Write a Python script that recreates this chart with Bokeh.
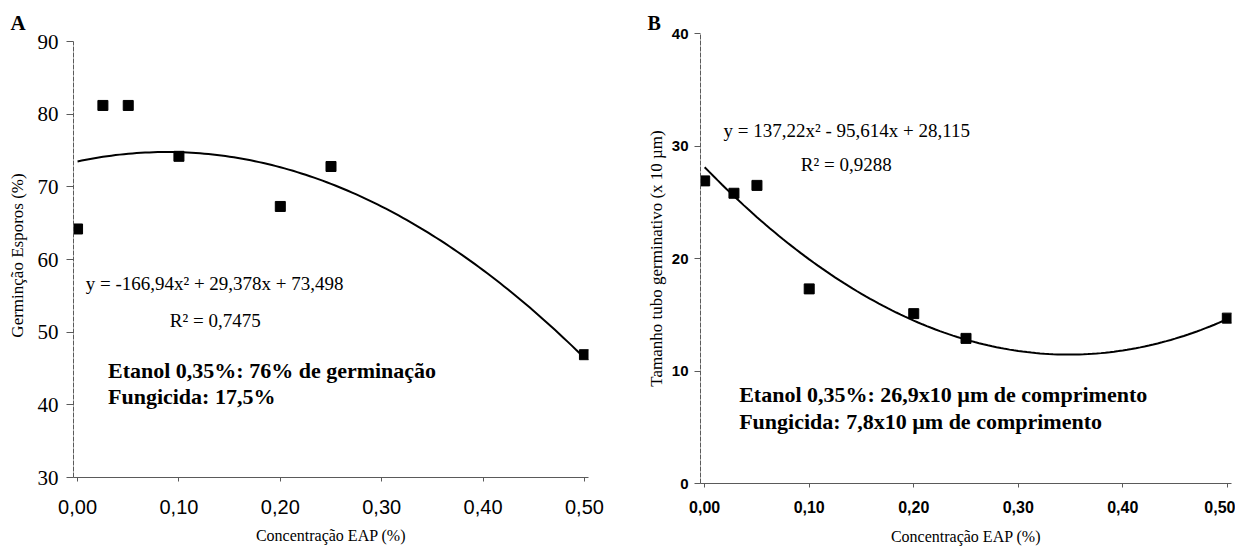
import numpy as np
from bokeh.plotting import figure
from bokeh.layouts import row
from bokeh.models import FixedTicker, Label, Range1d
from bokeh.embed import file_html
from bokeh.resources import INLINE

# ---- data ----
conc_a = [0.0, 0.025, 0.05, 0.10, 0.20, 0.25, 0.50]
germ_a = [64.2, 81.2, 81.2, 74.2, 67.3, 72.8, 46.9]
coef_a = [-166.94, 29.378, 73.498]          # trendline shown in panel A

conc_b = [0.0, 0.028, 0.05, 0.10, 0.20, 0.25, 0.50]
tubo_b = [26.9, 25.8, 26.5, 17.3, 15.1, 12.9, 14.7]
coef_b = [137.22, -95.614, 28.115]          # trendline shown in panel B

x_ticks = [0.0, 0.1, 0.2, 0.3, 0.4, 0.5]
x_tick_labels = ["0,00", "0,10", "0,20", "0,30", "0,40", "0,50"]
y_ticks_a = [30, 40, 50, 60, 70, 80, 90]
y_ticks_b = [0, 10, 20, 30, 40]

SERIF = "Liberation Serif"
SANS = "Liberation Sans"
AXC = "#5a5a5a"


def base_fig(fw, fh, y0, y1, yticks, ybounds, bl, br, bt, bb, letter, letter_size,
             letter_off, letter_standoff):
    p = figure(frame_width=fw, frame_height=fh, output_backend="svg", toolbar_location=None,
               x_range=Range1d(-0.004, 0.504), y_range=Range1d(y0, y1),
               min_border_left=bl, min_border_right=br, min_border_top=bt,
               min_border_bottom=bb, title=letter)
    p.title.text_font = SERIF
    p.title.text_font_size = f"{letter_size}px"
    p.title.text_font_style = "bold"
    p.title.text_color = "black"
    p.title.align = "left"
    p.title.offset = letter_off
    p.title.standoff = letter_standoff
    p.outline_line_color = None
    p.grid.visible = False
    p.background_fill_color = "white"
    p.border_fill_color = "white"
    p.xaxis.ticker = FixedTicker(ticks=x_ticks)
    p.xaxis.major_label_overrides = {t: l for t, l in zip(x_ticks, x_tick_labels)}
    p.yaxis.ticker = FixedTicker(ticks=yticks)
    p.yaxis.bounds = ybounds
    for ax in (p.xaxis[0], p.yaxis[0]):
        ax.axis_line_color = AXC
        ax.axis_line_width = 1
        ax.major_tick_line_color = AXC
        ax.minor_tick_line_color = None
        ax.major_tick_in = 0
        ax.major_label_text_color = "black"
        ax.axis_label_text_color = "black"
        ax.axis_label_text_font = SERIF
        ax.axis_label_text_font_style = "normal"
    p.yaxis.axis_line_dash = "5 1"
    return p


def curve(coef):
    xs = np.linspace(0, 0.5, 121)
    return xs, np.polyval(coef, xs)


def txt(p, x, y, s, size, bold=False):
    p.add_layout(Label(x=x, y=y, text=s, text_font=SERIF, text_font_size=f"{size}px",
                       text_font_style="bold" if bold else "normal",
                       text_baseline="middle", text_align="left", text_color="black"))


# ---------------- Panel A ----------------
# frame top shared with panel B; the 90 tick sits 8px below the frame top
pa = base_fig(515, 444, 30, 90 + 8 * 60 / 436, y_ticks_a, (30, 90), 73, 40, 33, 64,
              "A", 21, -63, -3)
pa.xaxis.major_label_text_font = SANS
pa.xaxis.major_label_text_font_size = "20px"
pa.xaxis.major_tick_out = 4
pa.xaxis.major_label_standoff = 18
pa.xaxis.axis_label = "Concentração EAP (%)"
pa.xaxis.axis_label_text_font_size = "16px"
pa.xaxis.axis_label_standoff = 10
pa.yaxis.major_label_text_font = SERIF
pa.yaxis.major_label_text_font_size = "21px"
pa.yaxis.major_tick_out = 7
pa.yaxis.major_label_standoff = 8
pa.yaxis.axis_label = "Germinção Esporos (%)"
pa.yaxis.axis_label_text_font_size = "17px"
pa.yaxis.axis_label_standoff = 8

xa, ya = curve(coef_a)
pa.line(xa, ya, line_color="black", line_width=2)
pa.scatter(conc_a, germ_a, marker="square", size=10, fill_color="black", line_color="black")

txt(pa, 0.008, 56.7, "y = -166,94x² + 29,378x + 73,498", 19)
txt(pa, 0.091, 51.6, "R² = 0,7475", 19)
txt(pa, 0.030, 44.7, "Etanol 0,35%: 76% de germinação", 22, bold=True)
txt(pa, 0.030, 41.1, "Fungicida: 17,5%", 22, bold=True)

# ---------------- Panel B ----------------
pb = base_fig(531, 450, 0, 40, y_ticks_b, (0, 40), 72, 4, 33, 58, "B", 20, -53, 0)
pb.xaxis.major_label_text_font = SANS
pb.xaxis.major_label_text_font_size = "16px"
pb.xaxis.major_label_text_font_style = "bold"
pb.xaxis.major_tick_out = 4
pb.xaxis.major_label_standoff = 13
pb.xaxis.axis_label = "Concentração EAP (%)"
pb.xaxis.axis_label_text_font_size = "16px"
pb.xaxis.axis_label_standoff = 12
pb.yaxis.major_label_text_font = SANS
pb.yaxis.major_label_text_font_size = "15px"
pb.yaxis.major_label_text_font_style = "bold"
pb.yaxis.major_tick_out = 6
pb.yaxis.major_label_standoff = 6
pb.yaxis.axis_label = "Tamanho tubo germinativo (x 10 µm)"
pb.yaxis.axis_label_text_font_size = "17px"
pb.yaxis.axis_label_standoff = 3

xb, yb = curve(coef_b)
pb.line(xb, yb, line_color="black", line_width=2)
pb.scatter(conc_b, tubo_b, marker="square", size=10, fill_color="black", line_color="black")

txt(pb, 0.018, 31.4, "y = 137,22x² - 95,614x + 28,115", 19)
txt(pb, 0.092, 28.4, "R² = 0,9288", 19)
txt(pb, 0.033, 7.9, "Etanol 0,35%: 26,9x10 µm de comprimento", 22, bold=True)
txt(pb, 0.033, 5.5, "Fungicida: 7,8x10 µm de comprimento", 22, bold=True)

layout = row(pa, pb)
open("out.html", "w").write(file_html(layout, INLINE))
